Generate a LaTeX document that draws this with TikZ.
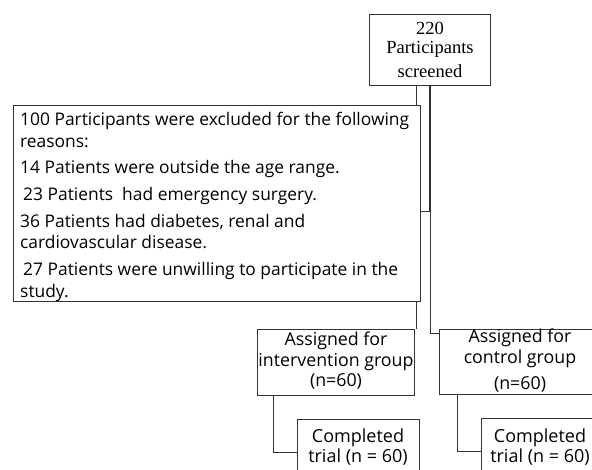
\documentclass[tikz,border=0pt]{standalone}
\usepackage{fontspec}
\setmainfont{Open Sans}
\newfontfamily\serifbox{Liberation Serif}
\begin{document}
\begin{tikzpicture}[x=1pt,y=-1pt,
  box/.style={draw=black!80,line width=0.8pt,fill=white,anchor=north west,inner sep=0pt},
  txt/.style={inner sep=0pt,font=\fontsize{17.4}{21.5}\selectfont},
  ln/.style={draw=black!80,line width=0.8pt}]
\useasboundingbox (0,0) rectangle (592,470);
\begin{scope}
\clip (0,0) rectangle (592,470);
% coordinates
\coordinate (j1) at (430,211);
\coordinate (j2) at (430,333);
\coordinate (j3) at (416,0);
\coordinate (j4) at (273,452);
\coordinate (j5) at (457,451);
% top box
\node[box,minimum width=121pt,minimum height=71pt] (top) at (369,14) {};
\node[inner sep=0pt,align=center,font=\serifbox\fontsize{18.5}{19}\selectfont] (toptxt) at (430,50) {220\\Participants\\[5pt]screened};
% thin line behind exclusion box
\node[box,minimum width=157pt,minimum height=66pt] (int) at (257,329) {};
\draw[ln] (top.south -| j3) -- (int.north -| j3);
% exclusion box
\node[box,minimum width=407pt,minimum height=196pt] (excl) at (13,105) {};
\node[txt,anchor=north west,align=left] (excltxt) at (20,112) {100 Participants were excluded for the following\\reasons:\\[5.3pt]14 Patients were outside the age range.\\[5.3pt]\hspace{3pt}23 Patients\ \ had emergency surgery.\\[5.3pt]36 Patients had diabetes, renal and\\cardiovascular disease.\\[5.3pt]\hspace{3pt}27 Patients were unwilling to participate in the\\study.};
% thick connector
\draw[ln,line width=1.8pt] (top.south -| j1) -- (j1);
\draw[ln] (j1) -- (excl.east |- j1);
% control box
\node[box,minimum width=163pt,minimum height=65pt] (ctrl) at (439,329) {};
\draw[ln] (j1) -- (j2) -- (ctrl.west |- j2);
% texts of group boxes
\node[txt,align=center,font=\fontsize{17.8}{20.5}\selectfont] (inttxt) at (336,361) {Assigned for\\intervention group\\(n=60)};
\node[txt,align=center,font=\fontsize{17.8}{21}\selectfont] (ctrltxt) at (520,361) {Assigned for\\control group\\[5pt](n=60)};
% completed boxes
\node[box,minimum width=122pt,minimum height=60pt] (compL) at (297,419) {};
\node[box,minimum width=121pt,minimum height=60pt] (compR) at (481,418) {};
\node[txt,align=center,font=\fontsize{18}{20}\selectfont] (compLtxt) at (358,447) {Completed\\trial (n = 60)};
\node[txt,align=center,font=\fontsize{18}{20}\selectfont] (compRtxt) at (540,447) {Completed\\trial (n = 60)};
\draw[ln] (int.south -| j4) -- (j4) -- (compL.west |- j4);
\draw[ln] (ctrl.south -| j5) -- (j5) -- (compR.west |- j5);
\end{scope}
\end{tikzpicture}
\end{document}
